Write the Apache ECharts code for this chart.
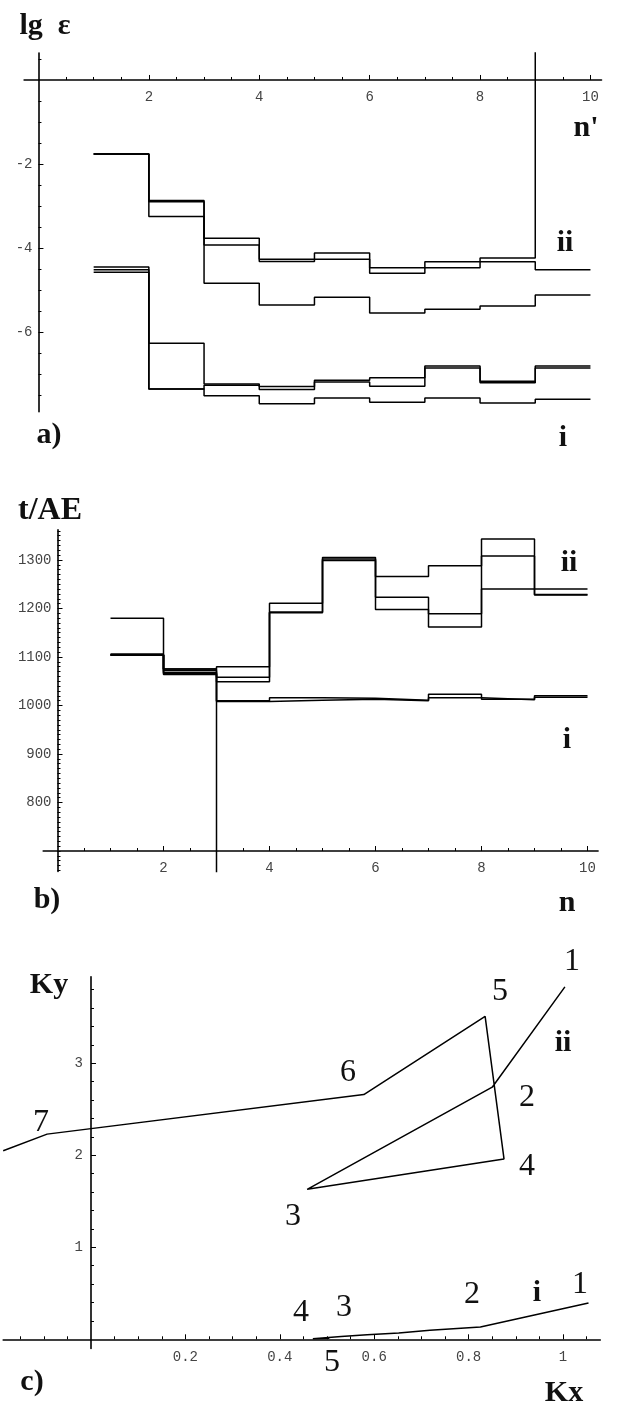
<!DOCTYPE html>
<html>
<head>
<meta charset="utf-8">
<script src="https://cdn.jsdelivr.net/npm/echarts@6/dist/echarts.min.js"></script>
<style>
html,body{margin:0;padding:0;background:#fff;}
#c{width:617px;height:1407px;}
</style>
</head>
<body>
<div id="c"></div>
<script>
// ---------- Panel a: lg eps vs n' (values on intervals [n', n'+1]) ----------
const aStarts = [1, 2, 3, 4, 5, 6, 7, 8, 9];
const aEnd = 10;
const aII1 = [-1.76, -2.87, -3.77, -4.27, -4.12, -4.47, -4.33, -4.24, 3.0];
const aII2 = [-1.76, -2.90, -3.93, -4.32, -4.27, -4.60, -4.47, -4.33, -4.52];
const aII3 = [-1.76, -3.25, -4.84, -5.36, -5.17, -5.55, -5.46, -5.38, -5.12];
const aI1 = [-4.45, -6.27, -7.24, -7.30, -7.15, -7.09, -6.81, -7.17, -6.81];
const aI2 = [-4.52, -7.36, -7.27, -7.37, -7.19, -7.29, -6.86, -7.21, -6.86];
const aI3 = [-4.58, -7.36, -7.52, -7.71, -7.57, -7.67, -7.57, -7.69, -7.60];
const aXTicks = [2, 4, 6, 8, 10];
const aYTicks = [-6, -4, -2];

// ---------- Panel b: t/AE vs n ----------
const bStarts = [1, 2, 3, 4, 5, 6, 7, 8, 9];
const bEnd = 10;
const bII1 = [1180, 1075, 1080, 1211, 1305, 1266, 1288, 1343, 1240];
const bII2 = [1104, 1064, 1058, 1193, 1299, 1223, 1189, 1308, 1229];
const bII3 = [1104, 1068, 1049, 1191, 1302, 1198, 1162, 1240, 1228];
const bI1 = [1104, 1072, 1008, 1011, 1013, 1010, 1023, 1013, 1020];
const bI2 = [1106, 1066, 1010, 1016, 1015, 1011, 1016, 1012, 1017];
const bDrop = [1104, 1075, 600, 600, 600, 600, 600, 600, 600];
const bXTicks = [2, 4, 6, 8, 10];
const bYTicks = [800, 900, 1000, 1100, 1200, 1300];
const bXAxisAt = 700;

// ---------- Panel c: Ky vs Kx ----------
const cKxII = [1.004, 0.850, 0.458, 0.875, 0.835, 0.578, -0.093, -0.186];
const cKyII = [3.83, 2.74, 1.63, 1.96, 3.51, 2.66, 2.23, 2.05];
const cKxI = [1.054, 0.825, 0.718, 0.652, 0.585, 0.53, 0.47, 0.505];
const cKyI = [0.395, 0.134, 0.098, 0.069, 0.05, 0.03, 0.006, 0.012];
const cXTicks = [0.2, 0.4, 0.6, 0.8, 1];
const cYTicks = [1, 2, 3];

// ---------- helpers ----------
function stepPoints(starts, vals, end) {
  const pts = [];
  for (let i = 0; i < starts.length; i++) {
    const x1 = i + 1 < starts.length ? starts[i + 1] : end;
    pts.push([starts[i], vals[i]], [x1, vals[i]]);
  }
  return pts;
}
function zip(xs, ys) { return xs.map((x, i) => [x, ys[i]]); }
function minorTicks(from, to, step, majors) {
  const out = [];
  const n0 = Math.ceil(from / step - 1e-9), n1 = Math.floor(to / step + 1e-9);
  for (let k = n0; k <= n1; k++) {
    const v = Math.round(k * step * 10000) / 10000;
    if (v === 0) continue;
    if (majors.some(m => Math.abs(m - v) < 1e-9)) continue;
    out.push(v);
  }
  return out;
}

const ext = {
  a: { x: [-0.26, 10.2], y: [-7.9, 0.64] },
  b: { x: [-0.27, 10.2], y: [658, 1362] },
  c: { x: [-0.186, 1.079], y: [-0.1, 3.94] }
};
const grids = [
  { left: 24.1, top: 53.1, width: 577.4, height: 358.7 },
  { left: 43.2, top: 529.9, width: 554.9, height: 341.5 },
  { left: 3.2, top: 976.8, width: 597.1, height: 371.7 }
];
// offsets that move each axis from the grid edge to where the other axis crosses
function xAxisOffset(g, yExt, at) { return -((at - yExt[0]) / (yExt[1] - yExt[0])) * g.height; }
function yAxisOffset(g, xExt, at) { return -((at - xExt[0]) / (xExt[1] - xExt[0])) * g.width; }

const tickFont = { fontFamily: '"Liberation Mono", "DejaVu Sans Mono", monospace', fontSize: 14, color: '#444' };
const axisLineStyle = { color: '#000', width: 1.6 };

function mainAxis(dim, grid, range, ticks, margin, offset) {
  return {
    type: 'value', gridIndex: grid, min: range[0], max: range[1],
    position: dim === 'x' ? 'bottom' : 'left', offset: offset,
    axisLine: { show: true, onZero: false, lineStyle: axisLineStyle },
    axisTick: { show: true, inside: true, length: 5, customValues: ticks, lineStyle: { color: '#000', width: 1 } },
    axisLabel: Object.assign({ show: true, customValues: ticks, margin: margin, formatter: v => String(v) }, tickFont),
    splitLine: { show: false },
    minorTick: { show: false }
  };
}
function minorAxis(dim, grid, range, minors, offset) {
  return {
    type: 'value', gridIndex: grid, min: range[0], max: range[1],
    position: dim === 'x' ? 'bottom' : 'left', offset: offset,
    axisLine: { show: false, onZero: false },
    axisTick: { show: true, inside: true, length: 3, customValues: minors, lineStyle: { color: '#000', width: 1 } },
    axisLabel: { show: false },
    splitLine: { show: false }
  };
}

const offAX = xAxisOffset(grids[0], ext.a.y, 0);
const offAY = yAxisOffset(grids[0], ext.a.x, 0);
const offBX = xAxisOffset(grids[1], ext.b.y, bXAxisAt);
const offBY = yAxisOffset(grids[1], ext.b.x, 0);
const offCX = xAxisOffset(grids[2], ext.c.y, 0);
const offCY = yAxisOffset(grids[2], ext.c.x, 0);

const xAxes = [
  mainAxis('x', 0, ext.a.x, aXTicks, 10, offAX),
  minorAxis('x', 0, ext.a.x, minorTicks(ext.a.x[0], ext.a.x[1], 0.5, aXTicks), offAX),
  mainAxis('x', 1, ext.b.x, bXTicks, 10, offBX),
  minorAxis('x', 1, ext.b.x, minorTicks(ext.b.x[0], ext.b.x[1], 0.5, bXTicks), offBX),
  mainAxis('x', 2, ext.c.x, cXTicks, 11, offCX),
  minorAxis('x', 2, ext.c.x, minorTicks(ext.c.x[0], ext.c.x[1], 0.05, cXTicks), offCX)
];
const yAxes = [
  mainAxis('y', 0, ext.a.y, aYTicks, 6, offAY),
  minorAxis('y', 0, ext.a.y, minorTicks(ext.a.y[0], ext.a.y[1], 0.5, aYTicks), offAY),
  mainAxis('y', 1, ext.b.y, bYTicks, 6, offBY),
  minorAxis('y', 1, ext.b.y, minorTicks(ext.b.y[0], ext.b.y[1], 10, bYTicks), offBY),
  mainAxis('y', 2, ext.c.y, cYTicks, 8, offCY),
  minorAxis('y', 2, ext.c.y, minorTicks(ext.c.y[0], ext.c.y[1], 0.2, cYTicks), offCY)
];

function lineSeries(data, gi) {
  return {
    type: 'line', xAxisIndex: gi * 2, yAxisIndex: gi * 2, data: data,
    symbol: 'none', silent: true, animation: false, clip: true,
    lineStyle: { color: '#000', width: 1.5 }
  };
}

const series = [
  lineSeries(stepPoints(aStarts, aII1, aEnd), 0),
  lineSeries(stepPoints(aStarts, aII2, aEnd), 0),
  lineSeries(stepPoints(aStarts, aII3, aEnd), 0),
  lineSeries(stepPoints(aStarts, aI1, aEnd), 0),
  lineSeries(stepPoints(aStarts, aI2, aEnd), 0),
  lineSeries(stepPoints(aStarts, aI3, aEnd), 0),
  lineSeries(stepPoints(bStarts, bII1, bEnd), 1),
  lineSeries(stepPoints(bStarts, bII2, bEnd), 1),
  lineSeries(stepPoints(bStarts, bII3, bEnd), 1),
  lineSeries(stepPoints(bStarts, bI1, bEnd), 1),
  lineSeries(stepPoints(bStarts, bI2, bEnd), 1),
  lineSeries(stepPoints(bStarts, bDrop, bEnd), 1),
  lineSeries(zip(cKxII, cKyII), 2),
  lineSeries(zip(cKxI, cKyI), 2)
];

const serifB = 'bold 30px "Liberation Serif", "DejaVu Serif", serif';
const serifBig = 'bold 32px "Liberation Serif", "DejaVu Serif", serif';
const serifN = '32px "Liberation Serif", "DejaVu Serif", serif';
function txt(text, x, y, font) {
  return { type: 'text', x: x, y: y, silent: true,
    style: { text: text, font: font, fill: '#111', align: 'center', verticalAlign: 'middle', textAlign: 'center', textVerticalAlign: 'middle' } };
}
const graphics = [
  txt('lg  ε', 45, 26, serifB),
  txt("n'", 586, 128, serifB),
  txt('ii', 565, 243, serifB),
  txt('a)', 49, 435, serifB),
  txt('i', 563, 438, serifB),
  txt('t/AE', 50, 511, serifBig),
  txt('ii', 569, 563, serifB),
  txt('i', 567, 740, serifB),
  txt('b)', 47, 900, serifB),
  txt('n', 567, 903, serifB),
  txt('Ky', 49, 985, serifB),
  txt('1', 572, 962, serifN),
  txt('5', 500, 992, serifN),
  txt('ii', 563, 1043, serifB),
  txt('6', 348, 1073, serifN),
  txt('2', 527, 1098, serifN),
  txt('7', 41, 1123, serifN),
  txt('4', 527, 1167, serifN),
  txt('3', 293, 1217, serifN),
  txt('4', 301, 1313, serifN),
  txt('3', 344, 1308, serifN),
  txt('2', 472, 1295, serifN),
  txt('i', 537, 1293, serifB),
  txt('1', 580, 1285, serifN),
  txt('5', 332, 1363, serifN),
  txt('c)', 32, 1382, serifB),
  txt('Kx', 564, 1393, serifB)
];

const chart = echarts.init(document.getElementById('c'), null, { renderer: 'canvas' });
chart.setOption({
  backgroundColor: '#fff',
  animation: false,
  grid: grids.map(g => Object.assign({ containLabel: false, outerBoundsMode: 'none' }, g)),
  xAxis: xAxes,
  yAxis: yAxes,
  series: series,
  graphic: graphics
});
</script>
</body>
</html>
